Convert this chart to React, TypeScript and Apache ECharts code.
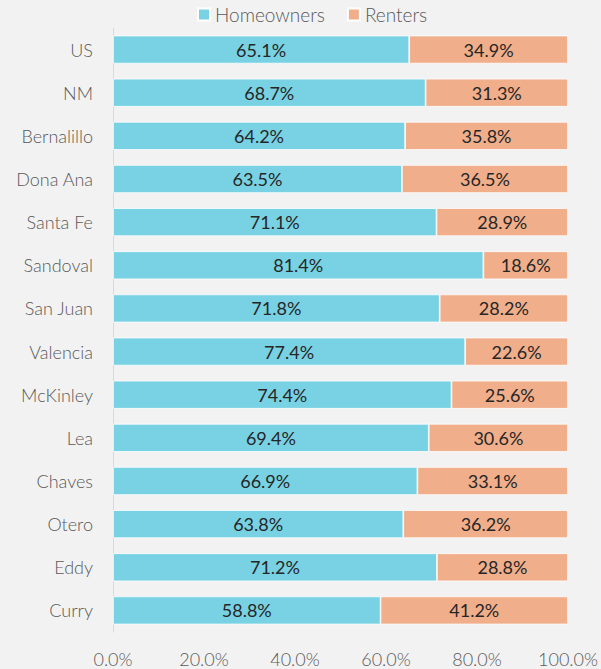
import React, { useEffect, useRef } from "react";
import * as echarts from "echarts";

const categories = ["US", "NM", "Bernalillo", "Dona Ana", "Santa Fe", "Sandoval", "San Juan", "Valencia", "McKinley", "Lea", "Chaves", "Otero", "Eddy", "Curry"];
const homeowners = [65.1, 68.7, 64.2, 63.5, 71.1, 81.4, 71.8, 77.4, 74.4, 69.4, 66.9, 63.8, 71.2, 58.8];
const renters = [34.9, 31.3, 35.8, 36.5, 28.9, 18.6, 28.2, 22.6, 25.6, 30.6, 33.1, 36.2, 28.8, 41.2];
const xTicks = [0, 20, 40, 60, 80, 100];

const FONT = "Lato, 'Open Sans', sans-serif";

export default function App() {
  const ref = useRef<HTMLDivElement>(null);
  useEffect(() => {
    if (!ref.current) return;
    const chart = echarts.init(ref.current, null, { renderer: "svg" });
    const labelOpt = {
      show: true,
      position: "inside",
      color: "#262626",
      fontSize: 18,
      fontWeight: 400,
      fontFamily: FONT,
      formatter: (p: any) => p.value.toFixed(1) + "%",
    };
    chart.setOption({
      animation: false,
      backgroundColor: "#f2f2f2",
      textStyle: { fontFamily: FONT },
      legend: {
        top: 0,
        left: 192,
        itemWidth: 12,
        itemHeight: 12,
        itemGap: 22,
        icon: "rect",
        textStyle: { color: "#595959", fontSize: 19, fontWeight: 300, fontFamily: FONT },
        data: ["Homeowners", "Renters"],
      },
      grid: { left: 113, right: 33, top: 28, bottom: 37, containLabel: false },
      xAxis: {
        type: "value",
        min: 0,
        max: 100,
        interval: 20,
        axisLine: { show: false },
        axisTick: { show: false },
        splitLine: { show: false },
        axisLabel: {
          color: "#595959",
          fontSize: 18,
          fontWeight: 300,
          fontFamily: FONT,
          margin: 18,
          formatter: (v: number) => (xTicks.includes(v) ? v.toFixed(1) + "%" : ""),
        },
      },
      yAxis: {
        type: "category",
        data: categories,
        inverse: true,
        axisLine: { show: true, lineStyle: { color: "#d9d9d9", width: 1 } },
        axisTick: { show: false },
        axisLabel: { color: "#595959", fontSize: 18, fontWeight: 300, fontFamily: FONT, margin: 20 },
      },
      series: [
        {
          name: "Homeowners",
          type: "bar",
          stack: "total",
          data: homeowners,
          barWidth: "65%",
          itemStyle: { color: "#78d2e3", borderColor: "#ffffff", borderWidth: 0.75 },
          label: labelOpt,
        },
        {
          name: "Renters",
          type: "bar",
          stack: "total",
          data: renters,
          barWidth: "65%",
          itemStyle: { color: "#f1ae8b", borderColor: "#ffffff", borderWidth: 0.75 },
          label: labelOpt,
        },
      ],
    });
    return () => chart.dispose();
  }, []);
  return <div ref={ref} style={{ width: 601, height: 669, position: "absolute", left: 0, top: 0 }} />;
}
